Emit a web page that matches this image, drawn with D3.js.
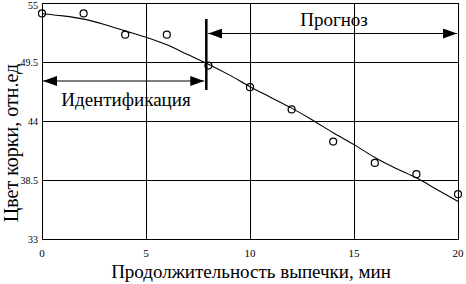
<!DOCTYPE html>
<html>
<head>
<meta charset="utf-8">
<script src="https://cdn.jsdelivr.net/npm/d3@7"></script>
<style>
body { margin: 0; background: #fff; }
text { font-family: "Liberation Serif", "Times New Roman", serif; fill: #000; }
</style>
</head>
<body>
<svg id="chart" width="466" height="284"></svg>
<script>
// measured points
var times = [0, 2, 4, 6, 8, 10, 12, 14, 16, 18, 20];
var colour = [54.03, 54.03, 52.05, 52.05, 49.17, 47.15, 45.08, 42.08, 40.09, 39.04, 37.18];

// model curve
var curveX = [0, 1, 2, 3, 4, 5, 6, 7, 8, 9, 10, 11, 12, 13, 14, 15, 16, 17, 18, 19, 20];
var curveY = [54.0, 53.8, 53.5, 53.0, 52.4, 51.8, 51.1, 50.2, 49.3, 48.3, 47.2, 46.2, 45.2, 44.1, 42.9, 41.8, 40.6, 39.6, 38.7, 37.6, 36.5];

var xTicks = [0, 5, 10, 15, 20];
var yTicks = [33, 38.5, 44, 49.5, 55];
var splitAt = 7.9;

var svg = d3.select("#chart");
var pl = 42, pr = 458, pt = 3, pb = 239;

var x = d3.scaleLinear().domain([0, 20]).range([pl, pr]);
var y = d3.scaleLinear().domain([33, 55]).range([pb, pt]);

var defs = svg.append("defs");
defs.append("marker")
    .attr("id", "head")
    .attr("viewBox", "0 0 14 10")
    .attr("refX", 14)
    .attr("refY", 5)
    .attr("markerWidth", 14)
    .attr("markerHeight", 10)
    .attr("markerUnits", "userSpaceOnUse")
    .attr("orient", "auto-start-reverse")
  .append("path")
    .attr("d", "M0,0L14,5L0,10Z")
    .attr("fill", "#000");

// grid
var grid = svg.append("g").attr("shape-rendering", "crispEdges").attr("stroke", "#000");
grid.selectAll(".gx").data(xTicks.slice(1, -1)).enter().append("line")
    .attr("x1", d => Math.round(x(d)) + 0.5).attr("x2", d => Math.round(x(d)) + 0.5)
    .attr("y1", pt).attr("y2", pb);
grid.selectAll(".gy").data(yTicks.slice(1, -1)).enter().append("line")
    .attr("y1", d => Math.round(y(d)) + 0.5).attr("y2", d => Math.round(y(d)) + 0.5)
    .attr("x1", pl).attr("x2", pr);
grid.append("rect")
    .attr("x", pl + 0.5).attr("y", pt + 0.5)
    .attr("width", pr - pl).attr("height", pb - pt)
    .attr("fill", "none");

// tick labels
svg.selectAll(".xt").data(xTicks).enter().append("text")
    .attr("x", d => x(d))
    .attr("y", 257)
    .attr("text-anchor", "middle")
    .style("font-size", "11px")
    .text(d => d);
svg.selectAll(".yt").data(yTicks).enter().append("text")
    .attr("x", 38)
    .attr("y", d => Math.min(Math.max(y(d) + 4, 9), 243))
    .attr("text-anchor", "end")
    .style("font-size", "10px")
    .text(d => d);

// curve
var line = d3.line()
    .x((d, i) => x(curveX[i]))
    .y(d => y(d))
    .curve(d3.curveMonotoneX);
svg.append("path")
    .attr("d", line(curveY))
    .attr("fill", "none")
    .attr("stroke", "#000")
    .attr("stroke-width", 1.1);

// points
svg.selectAll(".pt").data(colour).enter().append("circle")
    .attr("cx", (d, i) => x(times[i]))
    .attr("cy", d => y(d))
    .attr("r", 3.5)
    .attr("fill", "none")
    .attr("stroke", "#000")
    .attr("stroke-width", 1.2);

// split marker
svg.append("line")
    .attr("x1", x(splitAt)).attr("x2", x(splitAt))
    .attr("y1", 19).attr("y2", 90)
    .attr("stroke", "#000").attr("stroke-width", 2.5);

// arrows
svg.append("line")
    .attr("x1", x(splitAt) + 2).attr("x2", x(20) - 1)
    .attr("y1", 33.5).attr("y2", 33.5)
    .attr("stroke", "#000").attr("stroke-width", 1.2)
    .attr("marker-start", "url(#head)")
    .attr("marker-end", "url(#head)");
svg.append("line")
    .attr("x1", x(0) + 1).attr("x2", x(splitAt) - 2)
    .attr("y1", 81).attr("y2", 81)
    .attr("stroke", "#000").attr("stroke-width", 1.2)
    .attr("marker-start", "url(#head)")
    .attr("marker-end", "url(#head)");

svg.append("text")
    .attr("x", 334).attr("y", 26)
    .attr("text-anchor", "middle")
    .style("font-size", "19px")
    .text("Прогноз");
svg.append("text")
    .attr("x", 126).attr("y", 106)
    .attr("text-anchor", "middle")
    .style("font-size", "19px")
    .text("Идентификация");

// axis titles
svg.append("text")
    .attr("x", 251).attr("y", 278)
    .attr("text-anchor", "middle")
    .style("font-size", "19px")
    .text("Продолжительность выпечки, мин");
svg.append("text")
    .attr("transform", "translate(18,143) rotate(-90)")
    .attr("text-anchor", "middle")
    .style("font-size", "20px")
    .text("Цвет корки, отн.ед");
</script>
</body>
</html>
